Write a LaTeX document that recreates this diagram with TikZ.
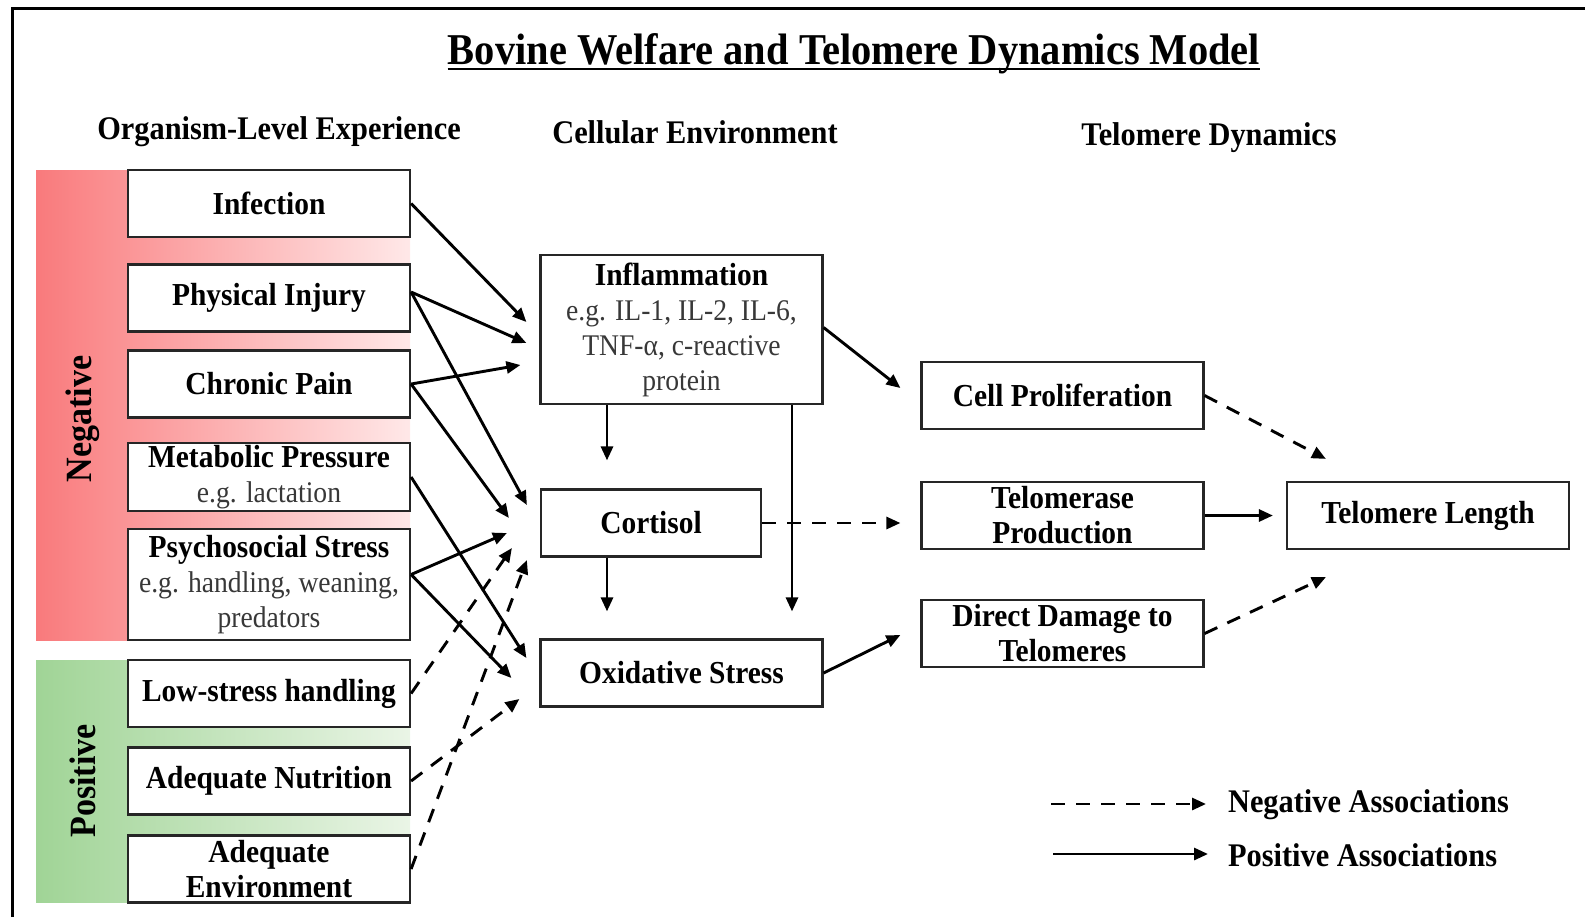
\documentclass[tikz,border=0pt]{standalone}
\usepackage{fontspec}
\setmainfont{Liberation Serif}[FakeStretch=0.92]
\usetikzlibrary{arrows.meta, positioning, calc}

\definecolor{negred}{RGB}{249,122,124}
\definecolor{negpale}{RGB}{255,232,232}
\definecolor{posgreen}{RGB}{160,212,150}
\definecolor{pospale}{RGB}{234,245,230}
\newcommand{\egtext}[1]{{\fontsize{15}{17.5}\selectfont\mdseries\color{black!78}#1}}

\begin{document}
\begin{tikzpicture}[x=0.5pt, y=-0.5pt,
  >={Triangle[length=7pt, width=6pt]},
  box/.style={draw=black!85, line width=1.1pt, fill=white, inner sep=0pt,
              minimum width=141pt, minimum height=33.5pt, align=center,
              font=\fontsize{16}{17.5}\selectfont\bfseries},
  head/.style={anchor=base, font=\fontsize{16.5}{20}\selectfont\bfseries},
  band/.style={rotate=90, font=\fontsize{18.5}{20}\selectfont\bfseries},
  conn/.style={->, line width=1.45pt},
  negconn/.style={conn, dash pattern=on 7pt off 5.5pt}]
  \useasboundingbox (0,0) rectangle (1585,917);
  \draw[line width=1.5pt] (12,917) -- (12,8) -- (1585,8);

  % title and column heads
  \node[anchor=base, inner sep=0pt, font=\fontsize{22}{26}\selectfont\bfseries] (title) at (854,64)
    {Bovine Welfare and Telomere Dynamics Model};
  \draw[line width=1.3pt] ([yshift=-2.5pt]title.base west) -- ([yshift=-2.5pt]title.base east);
  \node[head] (organism) at (279,139) {Organism-Level Experience};
  \node[head] (cellular) at (695,143.5) {Cellular Environment};
  \node[head] (dynamics) at (1209,145.5) {Telomere Dynamics};

  % coloured bands
  \shade[left color=negred, right color=negpale] (36,170) rectangle (410,640);
  \shade[left color=posgreen, right color=pospale] (36,660) rectangle (410,902);
  \node[band] (neglab) at (83,419) {Negative};
  \node[band] (poslab) at (83,781) {Positive};

  % organism level
  \node[box] (inf) at (269,203.5) {Infection};
  \node[box] (inj) at (269,298) {Physical Injury};
  \node[box] (pain) at (269,384) {Chronic Pain};
  \node[box, minimum height=34pt] (meta) at (269,477) {Metabolic Pressure\\\egtext{e.g. lactation}};
  \node[box, minimum height=55.5pt] (psych) at (269,584.5)
    {Psychosocial Stress\\\egtext{e.g. handling, weaning,}\\\egtext{predators}};
  \node[box] (low) at (269,693.5) {Low-stress handling};
  \node[box] (nutr) at (269,781) {Adequate Nutrition};
  \node[box] (env) at (269,869) {Adequate\\Environment};

  % cellular environment
  \node[box, minimum height=74.5pt] (inflam) at (681.5,329.5)
    {Inflammation\\\egtext{e.g. IL-1, IL-2, IL-6,}\\\egtext{TNF-α, c-reactive}\\\egtext{protein}};
  \node[box, minimum width=110pt] (cort) at (651,523) {Cortisol};
  \node[box] (oxid) at (681.5,673) {Oxidative Stress};

  % telomere dynamics
  \node[box] (cellp) at (1062.5,395.5) {Cell Proliferation};
  \node[box] (telo) at (1062.5,515.5) {Telomerase\\Production};
  \node[box] (dmg) at (1062.5,633.5) {Direct Damage to\\Telomeres};
  \node[box] (tl) at (1428,515.5) {Telomere Length};

  % experience -> cellular
  \draw[conn] (inf.east) -- ($(inflam.west)+(-13,-7.5)$);
  \draw[conn] ([yshift=3pt]inj.east) -- ($(inflam.west)+(-13,13.5)$);
  \draw[conn] ([yshift=3pt]inj.east) -- ($(cort.west)+(-13,-18)$);
  \draw[conn] (pain.east) -- ($(inflam.west)+(-19,35.5)$);
  \draw[conn] (pain.east) -- ($(cort.west)+(-31,-5)$);
  \draw[conn] (meta.east) -- ($(oxid.west)+(-13,-15)$);
  \draw[conn] ([yshift=5pt]psych.east) -- ($(cort.west)+(-33,10)$);
  \draw[conn] ([yshift=5pt]psych.east) -- ($(oxid.west)+(-28,5)$);
  \draw[negconn] (low.east) -- ($(cort.west)+(-28,25)$);
  \draw[negconn] (nutr.east) -- ($(oxid.west)+(-20,26)$);
  \draw[negconn] (env.east) -- ($(cort.west)+(-13,37)$);

  % within cellular
  \draw[conn] ($(inflam.south)+(-74.5,0)$) -- ($(cort.north)+(-44,-28)$);
  \draw[conn] ($(cort.south)+(-44,0)$) -- ($(oxid.north)+(-74.5,-27)$);
  \draw[conn] ($(inflam.south)+(110.5,0)$) -- ($(oxid.north)+(110.5,-27)$);

  % cellular -> telomere
  \draw[conn] ([yshift=1pt]inflam.east) -- ($(cellp.west)+(-20,-7.5)$);
  \draw[negconn, shorten >=10pt] (cort.east) -- (cort.east -| telo.west);
  \draw[conn] (oxid.east) -- ($(dmg.west)+(-20,1.5)$);
  \draw[negconn] (cellp.east) -- ($(tl.north west)+(40,-22)$);
  \draw[conn, shorten >=6.5pt] (telo.east) -- (tl.west);
  \draw[negconn] (dmg.east) -- ($(tl.south west)+(40,27)$);

  % legend
  \node[head, anchor=base west] (negleg) at (1221,812) {Negative Associations};
  \node[head, anchor=base west] (posleg) at (1221,866) {Positive Associations};
  \coordinate (negfrom) at (1051,804);
  \coordinate (posfrom) at (1053,854);
  \draw[negconn] (negfrom) -- ($(negleg.west |- negfrom)+(-15,0)$);
  \draw[conn] (posfrom) -- ($(posleg.west |- posfrom)+(-13,0)$);
\end{tikzpicture}
\end{document}
